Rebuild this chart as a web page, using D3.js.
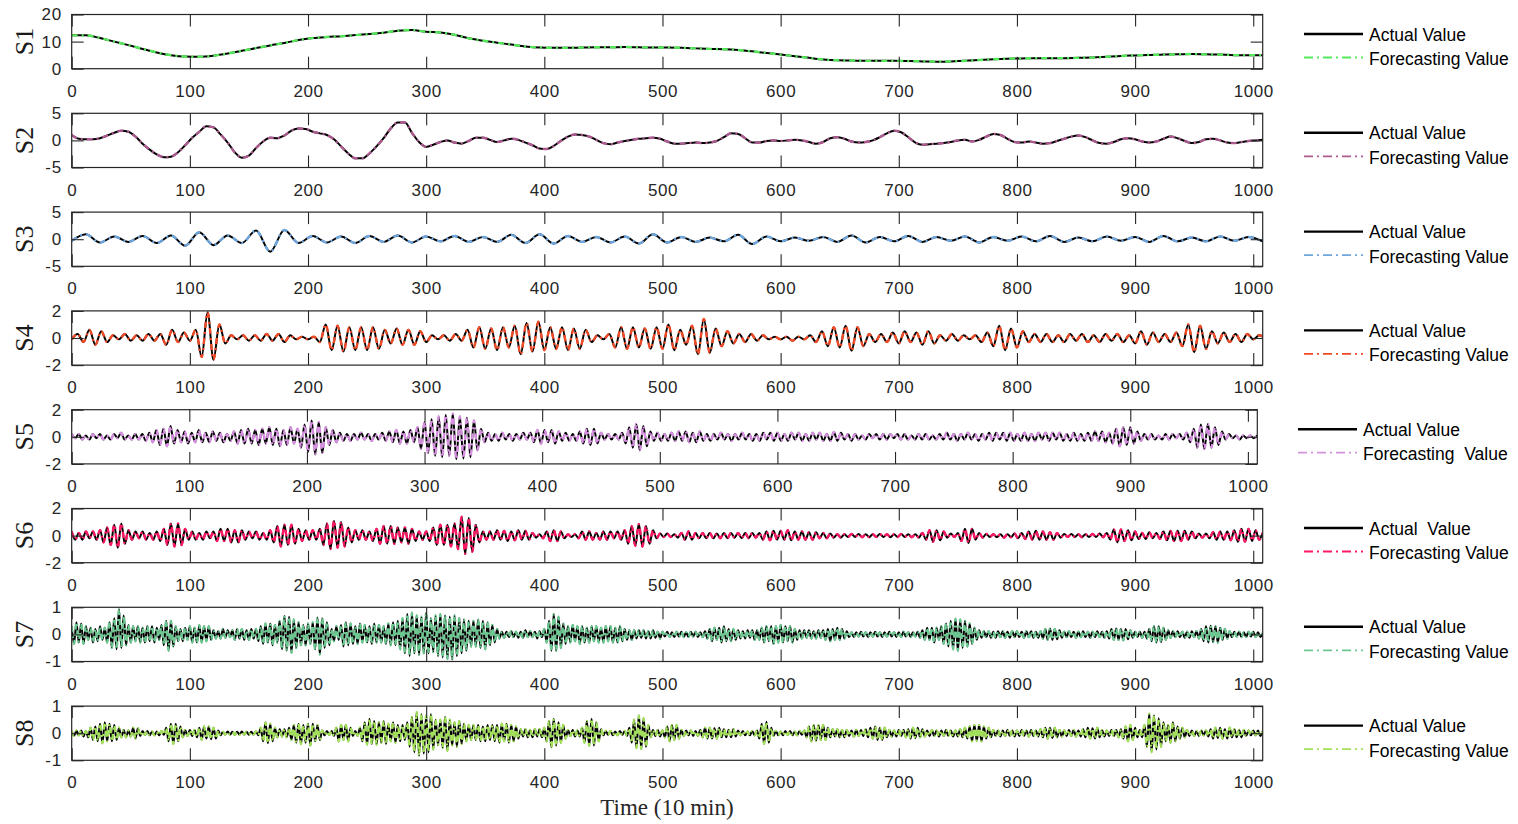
<!doctype html>
<html lang="en">
<head>
<meta charset="utf-8">
<title>Actual vs forecasting value, S1-S8</title>
<style>
  body { margin: 0; background: #fff; }
  svg { display: block; }
</style>
</head>
<body>
<svg id="chart"></svg>
<script src="https://cdn.jsdelivr.net/npm/d3@7/dist/d3.min.js"></script>
<script>
// values, one entry every sN_step time units (10 min)
// the forecast curves lie on top of the actual ones at this scale, so the same readings serve both
const s1Step = 12;
const s1Actual = [
  12.3,12.3,11.3,10.0,8.7,7.3,6.0,5.0,4.5,4.4,
  4.8,5.6,6.6,7.6,8.6,9.5,10.6,11.3,11.7,12.0,
  12.4,12.8,13.3,14.0,14.3,13.6,13.4,12.5,11.2,10.3,
  9.6,8.9,8.2,7.8,7.7,7.7,7.8,7.9,7.9,8.0,
  7.9,7.8,7.8,7.7,7.5,7.3,7.2,6.9,6.4,5.8,
  5.2,4.6,4.0,3.4,3.1,3.0,2.9,2.9,2.9,2.8,
  2.7,2.6,2.7,2.9,3.2,3.5,3.7,3.8,3.9,3.9,
  3.9,4.0,4.1,4.4,4.7,4.9,5.1,5.2,5.3,5.4,
  5.3,5.2,5.0,5.0,5.0
];
const s1Forecast = s1Actual;

const s2Step = 6;
const s2Actual = [
  1.0,.3,.2,.2,.4,.9,1.4,1.8,1.6,.7,
  -.6,-1.7,-2.6,-3.1,-3.0,-2.2,-.9,.5,1.6,2.6,
  2.4,1.1,-.4,-2.2,-3.2,-2.8,-1.4,-.2,.5,.4,
  .9,1.8,2.2,2.1,1.6,1.3,1.0,.2,-1.1,-2.4,
  -3.3,-3.3,-2.4,-1.1,.4,2.2,3.3,3.3,1.4,-.3,
  -1.2,-.8,-.3,0,-.4,-.6,-.1,.5,.5,.1,
  -.3,0,.3,.1,-.4,-.9,-1.5,-1.6,-1.0,-.1,
  .7,1.1,1.0,.7,.1,-.5,-.7,-.4,-.1,.1,
  .3,.4,.5,.3,-.2,-.6,-.6,-.5,-.4,-.5,
  -.4,-.1,.6,1.3,1.2,.4,-.4,-.4,-.1,0,
  -.1,0,.1,0,-.3,-.6,-.3,.4,.6,.3,
  -.2,-.4,-.3,0,.6,1.3,1.8,1.5,.6,-.4,
  -.8,-.7,-.6,-.5,-.3,0,.1,-.2,.1,.7,
  1.2,1.0,.3,-.3,-.4,-.2,-.4,-.6,-.5,-.1,
  .3,.7,.9,.6,0,-.5,-.6,-.3,.2,.4,
  .2,-.2,-.4,-.2,.3,.7,.4,-.1,-.5,-.3,
  .2,.3,0,-.4,-.5,-.3,-.1,0,.1
];
const s2Forecast = s2Actual;

const s3Step = 12;
const s3Actual = [
  -.3,.9,-.6,.5,-.5,.6,-.7,.7,-1.2,1.3,
  -1.1,.7,-.7,1.6,-2.3,1.7,-.7,.6,-.6,.5,
  -.7,.6,-.5,.7,-.6,.5,-.4,.6,-.5,.4,
  -.5,.8,-.7,.9,-.8,.6,-.5,.4,-.6,.5,
  -.8,.9,-.6,.4,-.5,.3,-.4,.8,-.9,.5,
  -.4,.3,-.3,.4,-.5,.7,-.6,.4,-.4,.6,
  -.5,.4,-.3,.5,-.6,.4,-.3,.5,-.4,.6,
  -.5,.3,-.4,.5,-.3,.4,-.5,.6,-.4,.3,
  -.4,.5,-.3,.4,-.4
];
const s3Forecast = s3Actual;

const s4Step = 5;
const s4Actual = [
  -.1,.3,-.3,.6,-.5,.5,-.3,.2,-.1,.3,-.2,.2,-.2,.3,-.2,.3,-.5,.6,-.3,.4,
  -.2,.6,-1.4,1.9,-1.6,1.0,-.4,.2,-.1,.2,-.2,.2,-.2,.3,-.2,.3,-.3,.2,-.1,.1,
  -.1,.1,-.3,1.0,-.9,.9,-1.0,.8,-.9,.8,-.9,.8,-.8,.6,-.4,.7,-.5,.6,-.5,.5,
  -.3,.2,-.1,.2,-.2,.3,-.2,.6,-.7,.8,-.8,.7,-.9,.8,-.7,.9,-1.2,1.1,-1.0,1.2,
  -.9,.8,-.8,.8,-.9,.7,-.8,.6,-.3,.2,-.1,.3,-.7,.8,-.8,.8,-.7,.7,-.8,.8,
  -.8,1.0,-.9,.6,-.5,.9,-1.2,1.4,-1.1,.7,-.6,.5,-.4,.3,-.3,.3,-.2,.2,-.1,.1,
  -.1,.1,-.2,.1,-.1,.2,-.3,.5,-.6,.8,-.7,.9,-.95,.8,-.6,.3,-.3,.3,-.3,.4,
  -.4,.5,-.3,.4,-.5,.5,-.4,.2,-.2,.3,-.2,.2,-.1,.2,-.3,.4,-.6,.9,-.9,.7,
  -.7,.5,-.3,.3,-.3,.3,-.3,.2,-.3,.3,-.2,.3,-.3,.2,-.3,.3,-.2,.3,-.3,.2,
  -.4,.5,-.5,.4,-.3,.3,-.3,.4,-.6,1.0,-1.05,.9,-.8,.5,-.4,.4,-.3,.3,-.3,.3,
  -.1,.2,0
];
const s4Forecast = s4Actual;

const s5Step = 3;
const s5Actual = [
  .2,-.1,.2,-.2,.1,-.2,.2,-.1,.2,-.2,  .1,-.2,.2,-.1,.3,-.2,.1,-.2,.2,-.2,
  .2,-.3,.3,-.4,.5,-.6,.6,-.7,.8,-.5,  .5,-.4,.4,-.5,.3,-.4,.5,-.4,.3,-.4,
  .4,-.3,.3,-.4,.2,-.3,.4,-.5,.5,-.5,  .6,-.5,.5,-.6,.6,-.5,.7,-.6,.6,-.7,
  .5,-.6,.7,-.5,.6,-.8,.9,-1.1,1.2,-1.3,  1.1,-1.2,.7,-.6,.5,-.4,.3,-.3,.2,-.3,
  .2,-.2,.3,-.2,.2,-.3,.2,-.2,.3,-.3,  .4,-.4,.5,-.5,.4,-.5,.5,-.4,.7,-.9,
  1.1,-1.2,1.3,-1.4,1.5,-1.5,1.6,-1.4,1.7,-1.65,  1.5,-1.6,1.4,-1.5,1.2,-1.0,.6,-.4,.3,-.3,
  .2,-.3,.3,-.2,.2,-.3,.2,-.2,.3,-.2,  .3,-.4,.5,-.5,.5,-.4,.5,-.5,.4,-.3,
  .3,-.3,.2,-.3,.4,-.5,.6,-.6,.6,-.5,  .3,-.2,.2,-.2,.2,-.2,.3,-.5,.7,-.8,
  .95,-1.0,.8,-.7,.4,-.3,.3,-.3,.2,-.3,  .3,-.3,.4,-.3,.4,-.4,.3,-.4,.4,-.3,
  .2,-.3,.2,-.2,.3,-.2,.2,-.3,.2,-.2,  .3,-.2,.2,-.3,.2,-.3,.3,-.2,.3,-.3,
  .3,-.3,.2,-.3,.3,-.2,.3,-.3,.2,-.3,  .3,-.2,.3,-.3,.2,-.3,.35,-.3,.3,-.2,
  .2,-.3,.2,-.2,.1,-.2,.2,-.1,.2,-.2,  .2,-.2,.2,-.1,.2,-.2,.2,-.2,.1,-.2,
  .2,-.2,.2,-.2,.1,-.2,.2,-.2,.3,-.2,  .2,-.3,.2,-.2,.3,-.2,.2,-.3,.2,-.2,
  .3,-.3,.3,-.2,.3,-.3,.3,-.3,.2,-.3,  .3,-.3,.2,-.3,.3,-.2,.3,-.3,.3,-.2,
  .3,-.3,.2,-.3,.3,-.3,.2,-.3,.3,-.3,  .4,-.3,.4,-.4,.3,-.5,.6,-.7,.7,-.6,
  .7,-.5,.4,-.3,.2,-.2,.2,-.2,.1,-.2,  .2,-.2,.2,-.1,.2,-.2,.3,-.4,.6,-.8,
  .9,-.9,.95,-.8,.7,-.6,.4,-.2,.2,-.1,  .1,-.2,.1,-.1,.1,-.1,.1
];
const s5Forecast = s5Actual;

const s6Step = 3;
const s6Actual = [
  .3,-.3,.2,-.3,.3,-.2,.3,-.3,.4,-.5,  .6,-.7,.8,-.9,.9,-.6,.4,-.3,.3,-.2,
  .3,-.3,.2,-.3,.3,-.4,.5,-.7,.9,-.8,  .9,-.7,.5,-.3,.3,-.3,.2,-.3,.3,-.2,
  .3,-.4,.5,-.4,.5,-.5,.4,-.5,.4,-.3,  .3,-.2,.3,-.3,.2,-.3,.4,-.5,.7,-.8,
  .8,-.7,.8,-.6,.5,-.4,.4,-.3,.4,-.3,  .5,-.7,.9,-1.0,1.1,-.9,1.0,-.8,.6,-.5,
  .4,-.3,.4,-.3,.3,-.4,.5,-.6,.7,-.6,  .7,-.6,.6,-.5,.6,-.6,.5,-.4,.3,-.3,
  .3,-.4,.6,-.7,.8,-.7,.8,-.8,.9,-1.0,  1.4,-1.35,1.3,-1.2,.8,-.5,.3,-.3,.3,-.3,
  .4,-.3,.35,-.4,.3,-.35,.4,-.3,.35,-.3,  .2,-.15,.1,-.2,.3,-.4,.4,-.4,.3,-.2,
  .1,-.1,.1,-.2,.3,-.3,.3,-.3,.2,-.3,  .3,-.3,.3,-.2,.3,-.3,.4,-.6,.7,-.75,
  .85,-.8,.7,-.6,.4,-.2,.15,-.1,.15,-.1,  .1,-.15,.2,-.3,.3,-.3,.2,-.2,.2,-.2,
  .2,-.2,.15,-.2,.2,-.2,.2,-.15,.2,-.2,  .2,-.2,.2,-.15,.2,-.3,.3,-.35,.35,-.3,
  .35,-.3,.4,-.35,.3,-.3,.3,-.3,.25,-.3,  .25,-.2,.2,-.2,.15,-.15,.1,-.15,.1,-.1,
  .12,-.1,.12,-.12,.1,-.12,.1,-.1,.12,-.1,  .1,-.12,.1,-.1,.12,-.1,.1,-.12,.1,-.15,
  .2,-.3,.4,-.45,.4,-.35,.3,-.15,.15,-.1,  .2,-.4,.5,-.55,.5,-.3,.2,-.15,.12,-.1,
  .1,-.12,.1,-.15,.1,-.12,.15,-.2,.2,-.25,  .3,-.3,.35,-.3,.3,-.3,.25,-.3,.2,-.15,
  .12,-.1,.12,-.1,.1,-.12,.1,-.1,.12,-.1,  .15,-.12,.2,-.3,.45,-.5,.45,-.4,.4,-.35,
  .3,-.25,.2,-.25,.25,-.2,.2,-.25,.3,-.35,  .35,-.4,.35,-.4,.35,-.3,.3,-.2,.15,-.15,
  .15,-.2,.25,-.3,.3,-.3,.3,-.35,.4,-.45,  .5,-.45,.5,-.4,.4,-.3,.2
];
const s6Forecast = s6Actual;

const s7Step = 2;
const s7Actual = [
  .3,-.35,.45,-.3,.4,-.35,.3,-.2,.25,-.3,  .2,-.25,.3,-.2,.25,-.3,.45,-.5,.6,-.55,
  .93,-.5,.7,-.4,.35,-.3,.3,-.25,.3,-.3,  .25,-.3,.3,-.25,.3,-.3,.25,-.2,.35,-.4,
  .5,-.6,.5,-.45,.3,-.25,.2,-.25,.25,-.2,  .3,-.3,.25,-.3,.35,-.3,.3,-.25,.3,-.2,
  .15,-.15,.12,-.15,.2,-.12,.15,-.1,.15,-.2,  .2,-.15,.2,-.2,.15,-.2,.2,-.15,.2,-.25,
  .3,-.35,.4,-.3,.4,-.4,.35,-.3,.5,-.55,  .68,-.6,.65,-.68,.55,-.5,.45,-.4,.35,-.4,
  .4,-.35,.45,-.55,.62,-.74,.6,-.5,.45,-.4,  .2,-.25,.3,-.2,.35,-.45,.45,-.4,.4,-.35,
  .3,-.35,.4,-.3,.35,-.3,.3,-.35,.4,-.3,  .35,-.3,.3,-.35,.4,-.4,.45,-.4,.5,-.55,
  .6,-.7,.75,-.8,.8,-.7,.7,-.75,.65,-.7,  .8,-.7,.6,-.65,.7,-.8,.75,-.85,.7,-.9,
  .65,-.93,.7,-.8,.6,-.7,.55,-.6,.5,-.45,  .5,-.45,.55,-.5,.5,-.55,.45,-.4,.35,-.3,
  .2,-.15,.1,-.12,.1,-.1,.12,-.1,.1,-.12,  .1,-.12,.15,-.1,.12,-.1,.1,-.15,.12,-.1,
  .2,-.3,.5,-.6,.75,-.6,.65,-.5,.4,-.35,  .3,-.3,.35,-.25,.3,-.35,.3,-.3,.25,-.3,
  .3,-.25,.3,-.3,.25,-.3,.3,-.25,.3,-.3,  .25,-.3,.3,-.25,.2,-.2,.15,-.2,.15,-.15,
  .15,-.12,.15,-.15,.12,-.15,.15,-.12,.1,-.15,  .1,-.08,.1,-.1,.08,-.1,.1,-.08,.1,-.1,
  .08,-.1,.1,-.08,.1,-.1,.08,-.1,.12,-.15,  .2,-.25,.25,-.2,.25,-.3,.3,-.25,.2,-.25,
  .2,-.2,.15,-.15,.12,-.15,.15,-.12,.15,-.2,  .15,-.2,.25,-.3,.3,-.25,.3,-.35,.3,-.3,
  .35,-.3,.3,-.25,.3,-.3,.2,-.2,.15,-.15,  .15,-.12,.15,-.15,.12,-.15,.15,-.12,.15,-.2,
  .2,-.25,.2,-.2,.25,-.2,.2,-.15,.12,-.1,  .08,-.1,.08,-.08,.1,-.08,.08,-.1,.08,-.08,
  .1,-.08,.08,-.1,.08,-.08,.1,-.08,.08,-.1,  .08,-.1,.1,-.08,.08,-.1,.08,-.08,.1,-.12,
  .15,-.2,.25,-.2,.25,-.3,.25,-.2,.3,-.35,  .4,-.45,.5,-.55,.58,-.6,.55,-.5,.5,-.45,
  .4,-.35,.25,-.2,.15,-.12,.12,-.1,.12,-.12,  .1,-.12,.12,-.1,.12,-.12,.1,-.12,.12,-.1,
  .12,-.1,.1,-.12,.12,-.1,.12,-.12,.1,-.12,  .12,-.15,.2,-.2,.22,-.2,.2,-.18,.15,-.12,
  .1,-.1,.12,-.1,.1,-.12,.1,-.1,.12,-.1,  .1,-.12,.1,-.1,.12,-.1,.1,-.12,.12,-.15,
  .2,-.2,.22,-.2,.2,-.22,.2,-.18,.15,-.12,  .1,-.1,.1,-.12,.1,-.15,.2,-.25,.3,-.3,
  .3,-.28,.25,-.2,.15,-.12,.12,-.1,.12,-.1,  .1,-.12,.1,-.12,.12,-.1,.12,-.15,.2,-.25,
  .3,-.3,.32,-.28,.3,-.3,.25,-.2,.2,-.15,  .12,-.1,.1,-.08,.1,-.1,.08,-.1,.1,-.08,
  .1,-.1,.08,-.1,.05
];
const s7Forecast = s7Actual;

const s8Step = 2;
const s8Actual = [
  .08,-.1,.1,-.08,.1,-.12,.08,-.15,.2,-.25,  .25,-.3,.35,-.37,.4,-.3,.35,-.3,.3,-.25,
  .2,-.15,.12,-.15,.1,-.12,.2,-.2,.18,-.1,  .08,-.06,.08,-.08,.06,-.08,.06,-.08,.08,-.06,
  .2,-.3,.35,-.4,.35,-.3,.25,-.15,.12,-.1,  .12,-.1,.12,-.15,.2,-.25,.25,-.2,.25,-.22,
  .2,-.2,.1,-.08,.05,-.05,.06,-.05,.05,-.06,  .05,-.05,.06,-.05,.05,-.06,.05,-.05,.06,-.08,
  .2,-.3,.4,-.37,.35,-.3,.2,-.15,.15,-.12,  .15,-.15,.2,-.25,.3,-.35,.35,-.4,.3,-.35,
  .35,-.45,.35,-.3,.3,-.25,.1,-.08,.08,-.06,  .08,-.1,.2,-.3,.3,-.25,.3,-.3,.2,-.1,
  .08,-.1,.2,-.3,.4,-.42,.53,-.4,.45,-.42,  .4,-.35,.45,-.4,.35,-.3,.4,-.35,.3,-.3,
  .3,-.25,.4,-.5,.6,-.7,.78,-.83,.7,-.75,  .65,-.7,.7,-.6,.5,-.45,.5,-.55,.6,-.65,
  .5,-.45,.4,-.5,.45,-.4,.35,-.3,.3,-.25,  .3,-.25,.3,-.3,.25,-.3,.3,-.25,.3,-.3,
  .3,-.35,.35,-.3,.35,-.35,.3,-.3,.25,-.2,  .15,-.12,.15,-.15,.12,-.15,.15,-.12,.15,-.15,
  .2,-.3,.45,-.52,.53,-.45,.4,-.35,.3,-.2,  .12,-.1,.12,-.12,.1,-.12,.2,-.35,.45,-.46,
  .53,-.45,.4,-.3,.15,-.08,.08,-.06,.08,-.08,  .06,-.08,.08,-.06,.08,-.1,.2,-.35,.5,-.55,
  .65,-.58,.55,-.5,.3,-.15,.12,-.1,.12,-.12,  .1,-.15,.25,-.3,.3,-.25,.3,-.2,.12,-.1,
  .1,-.08,.1,-.1,.08,-.1,.12,-.15,.2,-.2,  .2,-.2,.18,-.2,.2,-.15,.15,-.15,.12,-.15,
  .15,-.12,.1,-.08,.08,-.08,.06,-.08,.08,-.08,  .1,-.2,.35,-.4,.42,-.35,.2,-.1,.08,-.08,
  .06,-.08,.08,-.06,.08,-.08,.06,-.08,.08,-.06,  .1,-.15,.25,-.3,.3,-.28,.3,-.25,.3,-.25,
  .2,-.15,.15,-.12,.15,-.15,.12,-.15,.12,-.1,  .1,-.12,.12,-.1,.12,-.1,.15,-.15,.2,-.2,
  .25,-.25,.2,-.25,.2,-.15,.12,-.12,.1,-.12,  .12,-.1,.12,-.15,.15,-.2,.2,-.18,.2,-.15,
  .15,-.12,.1,-.1,.12,-.1,.1,-.12,.1,-.1,  .12,-.1,.1,-.12,.1,-.12,.15,-.15,.2,-.2,
  .25,-.3,.3,-.28,.3,-.3,.25,-.2,.2,-.15,  .12,-.1,.1,-.12,.1,-.1,.12,-.1,.1,-.12,
  .1,-.1,.12,-.1,.1,-.12,.12,-.1,.1,-.12,  .15,-.15,.2,-.2,.2,-.18,.2,-.15,.12,-.12,
  .1,-.1,.12,-.1,.12,-.12,.1,-.12,.15,-.15,  .2,-.2,.18,-.2,.2,-.15,.12,-.12,.1,-.1,
  .12,-.1,.12,-.15,.15,-.2,.25,-.3,.3,-.25,  .2,-.15,.12,-.15,.3,-.5,.72,-.7,.65,-.6,
  .55,-.5,.4,-.3,.3,-.35,.4,-.3,.25,-.2,  .2,-.15,.12,-.1,.1,-.1,.08,-.1,.1,-.08,
  .1,-.12,.15,-.2,.2,-.18,.2,-.2,.15,-.2,  .2,-.15,.15,-.15,.12,-.15,.12,-.1,.1,-.08,
  .1,-.08,.1,-.1,.08
];
const s8Forecast = s8Actual;

const seriesNames = ["S1", "S2", "S3", "S4", "S5", "S6", "S7", "S8"];
const yTickValues = [[0, 10, 20], [-5, 0, 5], [-5, 0, 5], [-2, 0, 2], [-2, 0, 2], [-2, 0, 2], [-1, 0, 1], [-1, 0, 1]];
const xTickValues = [0, 100, 200, 300, 400, 500, 600, 700, 800, 900, 1000];
const actualLabels = ["Actual Value", "Actual Value", "Actual Value", "Actual Value", "Actual Value", "Actual  Value", "Actual Value", "Actual Value"];
const forecastLabels = ["Forecasting Value", "Forecasting Value", "Forecasting Value", "Forecasting Value", "Forecasting  Value", "Forecasting Value", "Forecasting Value", "Forecasting Value"];
const timeMax = 1008;

const actualSeries = [s1Actual, s2Actual, s3Actual, s4Actual, s5Actual, s6Actual, s7Actual, s8Actual];
const forecastSeries = [s1Forecast, s2Forecast, s3Forecast, s4Forecast, s5Forecast, s6Forecast, s7Forecast, s8Forecast];
const steps = [s1Step, s2Step, s3Step, s4Step, s5Step, s6Step, s7Step, s8Step];
const colors = ["#55e85a", "#ad5a90", "#6fa6de", "#f04a26", "#d690e0", "#ff1862", "#6cc890", "#a2e05a"];

const width = 1518, height = 824;
const left = 71.7, top0 = 14.5, rowGap = 98.8, panelH = 54.2;
const axisColor = "#262626";
const sans = "Arial, 'Liberation Sans', sans-serif";
const serif = "'Times New Roman', 'Liberation Serif', serif";
const fmt = d => String(d);   // plain "-5", "1000" like the original

const svg = d3.select("#chart")
    .attr("width", width)
    .attr("height", height)
    .style("background", "#fff");

seriesNames.forEach((name, k) => {
    const top = top0 + k * rowGap;
    const right = k === 4 ? 1257.3 : 1262.7;
    const ticks = yTickValues[k];
    const x = d3.scaleLinear([0, timeMax], [left, right]);
    const y = d3.scaleLinear([ticks[0], ticks[ticks.length - 1]], [top + panelH, top]);
    const step = steps[k];

    const g = svg.append("g");

    g.append("clipPath").attr("id", `clip${k}`)
        .append("rect")
        .attr("x", left).attr("y", top)
        .attr("width", right - left).attr("height", panelH);

    const line = d3.line()
        .x((d, i) => x(i * step))
        .y(d => y(d))
        .curve(d3.curveMonotoneX);

    const plot = g.append("g").attr("clip-path", `url(#clip${k})`);
    plot.append("path")
        .attr("d", line(actualSeries[k]))
        .attr("fill", "none")
        .attr("stroke", "#000")
        .attr("stroke-width", 2);
    plot.append("path")
        .attr("d", line(forecastSeries[k]))
        .attr("fill", "none")
        .attr("stroke", colors[k])
        .attr("stroke-width", 2.4)
        .attr("stroke-dasharray", "6,4,2,4");

    // box and inward ticks on all four sides
    g.append("rect")
        .attr("x", left).attr("y", top)
        .attr("width", right - left).attr("height", panelH)
        .attr("fill", "none")
        .attr("stroke", axisColor)
        .attr("stroke-width", 1.2);

    const styleAxis = sel => sel
        .attr("color", axisColor)
        .attr("font-family", sans)
        .attr("font-size", 17)
        .attr("letter-spacing", "0.6px")
        .call(s => s.select(".domain").remove())
        .call(s => s.selectAll(".tick line").attr("stroke-width", 1.1));

    g.append("g")
        .attr("transform", `translate(0,${top + panelH})`)
        .call(d3.axisBottom(x).tickValues(xTickValues).tickFormat(fmt).tickSize(-12).tickPadding(16))
        .call(styleAxis);
    g.append("g")
        .attr("transform", `translate(0,${top})`)
        .call(d3.axisTop(x).tickValues(xTickValues).tickSize(-12).tickFormat(""))
        .call(styleAxis);
    g.append("g")
        .attr("transform", `translate(${left},0)`)
        .call(d3.axisLeft(y).tickValues(ticks).tickFormat(fmt).tickSize(-12).tickPadding(10))
        .call(styleAxis);
    g.append("g")
        .attr("transform", `translate(${right},0)`)
        .call(d3.axisRight(y).tickValues(ticks).tickSize(-12).tickFormat(""))
        .call(styleAxis);

    g.append("text")
        .attr("transform", `translate(24,${top + panelH / 2}) rotate(-90)`)
        .attr("text-anchor", "middle")
        .attr("dy", "0.35em")
        .attr("font-family", serif)
        .attr("font-size", 26)
        .attr("fill", "#1a1a1a")
        .text(name);

    // legend
    const lx = k === 4 ? 1298 : 1304;
    const leg = g.append("g").attr("transform", `translate(${lx},${top})`);
    leg.append("line")
        .attr("x1", 0).attr("x2", 59).attr("y1", 19.5).attr("y2", 19.5)
        .attr("stroke", "#000").attr("stroke-width", 2.4);
    leg.append("line")
        .attr("x1", 0).attr("x2", 59).attr("y1", 43).attr("y2", 43)
        .attr("stroke", colors[k]).attr("stroke-width", 1.8)
        .attr("stroke-dasharray", "9,4,2,4");
    leg.append("text")
        .attr("x", 65).attr("y", 26)
        .attr("font-family", sans).attr("font-size", 17.5)
        .attr("fill", "#000")
        .style("white-space", "pre")
        .text(actualLabels[k]);
    leg.append("text")
        .attr("x", 65).attr("y", 50.5)
        .attr("font-family", sans).attr("font-size", 17.5)
        .attr("fill", "#000")
        .style("white-space", "pre")
        .text(forecastLabels[k]);
});

svg.append("text")
    .attr("x", 667)
    .attr("y", 815)
    .attr("text-anchor", "middle")
    .attr("font-family", serif)
    .attr("font-size", 23)
    .attr("fill", axisColor)
    .text("Time (10 min)");
</script>
</body>
</html>
